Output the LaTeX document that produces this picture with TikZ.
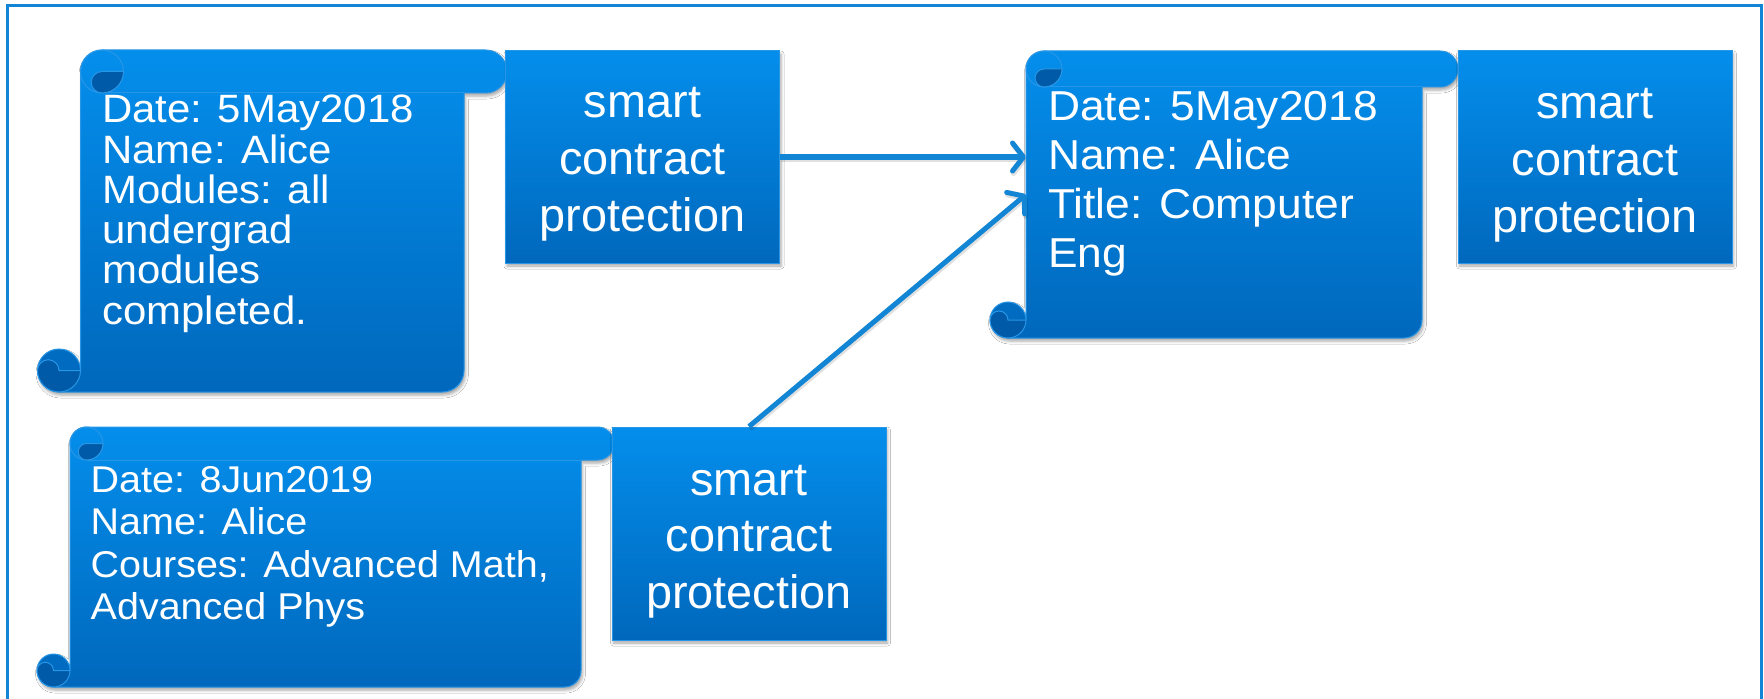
\documentclass[tikz,border=0pt]{standalone}
\usepackage{fontspec}
\setmainfont{Liberation Sans}
\newfontfamily\scrollfont[FakeStretch=1.06]{Liberation Sans}
\usetikzlibrary{arrows.meta,shadows.blur,calc}

\definecolor{shTop}{RGB}{4,142,236}
\definecolor{shBot}{RGB}{0,104,188}
\definecolor{shDark}{RGB}{0,90,168}
\definecolor{shEdge}{RGB}{40,150,230}
\definecolor{frameBlue}{RGB}{18,134,212}

\tikzset{
  panelfill/.style={top color=shTop, bottom color=shBot,
    blur shadow={shadow xshift=1.5bp, shadow yshift=-3bp, shadow blur radius=3bp, shadow opacity=35}},
  cbox/.style={rectangle, panelfill, draw=shEdge, line width=1bp,
    minimum width=274bp, minimum height=212bp, inner sep=0},
  edgeline/.style={draw=shEdge, line width=1bp},
  stext/.style={text=white, inner sep=0, anchor=base west},
  btext/.style={text=white, inner sep=0, anchor=base},
  link/.style={draw=frameBlue, line width=5bp,
    -{Straight Barb[length=11bp, width=28bp, round]},
    preaction={draw=black, draw opacity=0.12, line width=5bp,
      transform canvas={xshift=1bp, yshift=-2.5bp}}},
  frameline/.style={draw=frameBlue, line width=3bp},
}

% vertical scroll: #1 name, #2 left, #3 top, #4 right, #5 bottom, #6 roll size
\newcommand\drawscroll[6]{%
  \pgfmathsetmacro\sL{#2}\pgfmathsetmacro\sT{#3}%
  \pgfmathsetmacro\sR{#4}\pgfmathsetmacro\sB{#5}%
  \pgfmathsetmacro\sH{#6}\pgfmathsetmacro\sQ{#6/2}\pgfmathsetmacro\sF{#6/4}%
  \pgfmathsetmacro\sK{0.5523*\sQ}\pgfmathsetmacro\sKf{0.5523*\sF}%
  % sheet with the top roll and the bottom roll
  \shadedraw[panelfill, edgeline] (\sL+\sQ,\sB-\sH)
     .. controls (\sL+\sQ-\sK,\sB-\sH) and (\sL,\sB-\sQ-\sK) .. (\sL,\sB-\sQ)
     .. controls (\sL,\sB-\sQ+\sK) and (\sL+\sQ-\sK,\sB) .. (\sL+\sQ,\sB)
     -- (\sR-\sH-\sQ,\sB)
     .. controls (\sR-\sH-\sQ+\sK,\sB) and (\sR-\sH,\sB-\sQ+\sK) .. (\sR-\sH,\sB-\sQ)
     -- (\sR-\sH,\sT+\sH) -- (\sR-\sQ,\sT+\sH)
     .. controls (\sR-\sQ+\sK,\sT+\sH) and (\sR,\sT+\sQ+\sK) .. (\sR,\sT+\sQ)
     .. controls (\sR,\sT+\sQ-\sK) and (\sR-\sQ+\sK,\sT) .. (\sR-\sQ,\sT)
     -- (\sL+\sH+\sQ,\sT)
     .. controls (\sL+\sH+\sQ-\sK,\sT) and (\sL+\sH,\sT+\sQ-\sK) .. (\sL+\sH,\sT+\sQ)
     -- (\sL+\sH,\sB-\sQ)
     .. controls (\sL+\sH,\sB-\sQ-\sK) and (\sL+\sQ+\sK,\sB-\sH) .. (\sL+\sQ,\sB-\sH)
     -- cycle;
  % lower edge of the top roll
  \draw[edgeline] (\sR-\sH,\sT+\sH) -- (\sL+1.5*\sH,\sT+\sH);
  \draw[edgeline] (\sL+1.5*\sH,\sT+\sQ) circle[radius=\sQ];
  % curled end of the top roll
  \filldraw[fill=shDark, edgeline] (\sL+2*\sH,\sT+\sQ)
     .. controls (\sL+2*\sH,\sT+\sQ+\sK) and (\sL+1.5*\sH+\sK,\sT+\sH) .. (\sL+1.5*\sH,\sT+\sH)
     .. controls (\sL+1.5*\sH-\sKf,\sT+\sH) and (\sL+1.5*\sH-\sF,\sT+0.75*\sH+\sKf) .. (\sL+1.5*\sH-\sF,\sT+0.75*\sH)
     .. controls (\sL+1.5*\sH-\sF,\sT+0.75*\sH-\sKf) and (\sL+1.5*\sH-\sKf,\sT+\sQ) .. (\sL+1.5*\sH,\sT+\sQ)
     -- cycle;
  % curled end of the bottom roll
  \filldraw[fill=shDark, edgeline] (\sL+\sH,\sB-\sQ)
     .. controls (\sL+\sH,\sB-\sQ+\sK) and (\sL+\sQ+\sK,\sB) .. (\sL+\sQ,\sB)
     .. controls (\sL+\sQ-\sK,\sB) and (\sL,\sB-\sQ+\sK) .. (\sL,\sB-\sQ)
     .. controls (\sL,\sB-\sQ-\sKf) and (\sL+\sF-\sKf,\sB-\sQ-\sF) .. (\sL+\sF,\sB-\sQ-\sF)
     .. controls (\sL+\sF+\sKf,\sB-\sQ-\sF) and (\sL+\sQ,\sB-\sQ-\sKf) .. (\sL+\sQ,\sB-\sQ)
     -- cycle;
  \coordinate (#1-west) at (\sL+\sH,{(\sT+\sB)/2});
}

\begin{document}
\begin{tikzpicture}[x=1bp,y=-1bp]
\useasboundingbox[fill=white] (0,0) rectangle (1764,699);
\draw[frameline] (7.5,6) rectangle (1761,730);

% records and their protections
\drawscroll{s1}{37.5}{50}{507}{392}{43}
\node[cbox] (box1) at (642.5,157) {};
\drawscroll{s2}{37}{427}{614}{687}{33}
\node[cbox, minimum height=213bp] (box2) at (749,533.5) {};
\drawscroll{s3}{990}{51}{1458}{338}{36}
\node[cbox] (box3) at (1595,157) {};

% record texts
\node[stext] (s1t) at (102,123) {\parbox[t]{800bp}{\raggedright\scrollfont\fontsize{39.7}{40.4}\selectfont
  Date: 5May2018\\Name: Alice\\Modules: all\\undergrad\\modules\\completed.}};
\node[stext] (s2t) at (90.5,492) {\parbox[t]{800bp}{\raggedright\scrollfont\fontsize{37.4}{42.7}\selectfont
  Date: 8Jun2019\\Name: Alice\\Courses: Advanced Math,\\Advanced Phys}};
\node[stext] (s3t) at (1048,121) {\parbox[t]{800bp}{\raggedright\scrollfont\fontsize{42}{49}\selectfont
  Date: 5May2018\\Name: Alice\\Title: Computer\\Eng}};

% protection labels
\node[btext] (b1t) at (642.5,118) {\parbox[t]{274bp}{\centering\fontsize{47}{57}\selectfont
  smart\\contract\\protection}};
\node[btext] (b2t) at (749,495) {\parbox[t]{274bp}{\centering\fontsize{47}{57}\selectfont
  smart\\contract\\protection}};
\node[btext] (b3t) at (1595,119) {\parbox[t]{274bp}{\centering\fontsize{47}{57}\selectfont
  smart\\contract\\protection}};

% links into the combined record
\draw[link] (box1.east) -- (box1.east -| s3-west);
\draw[link] (box2.north) -- (s3-west);
\end{tikzpicture}
\end{document}
